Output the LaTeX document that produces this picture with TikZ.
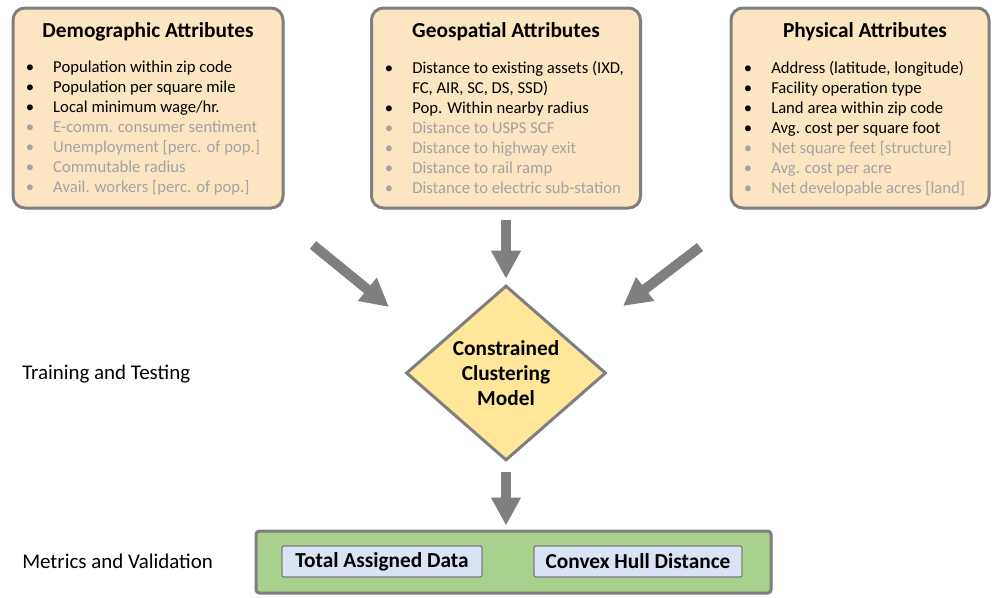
\documentclass[tikz,border=0pt]{standalone}
\usepackage{fontspec}
\setmainfont{Carlito}
\usetikzlibrary{shapes.geometric,arrows.meta,shadows}
\definecolor{boxfill}{HTML}{FCE6C2}
\definecolor{bordergray}{HTML}{7F7F7F}
\definecolor{arrowgray}{HTML}{7F7F7F}
\definecolor{textgray}{HTML}{A3A3A3}
\definecolor{diamondfill}{HTML}{FFE699}
\definecolor{greenfill}{HTML}{A9D18E}
\definecolor{bluefill}{HTML}{DAE3F3}
\newcommand{\bl}[1]{\makebox[18pt][l]{\hspace*{-2.5pt}•}#1}
\newcommand{\gl}[1]{{\color{textgray}\makebox[18pt][l]{\hspace*{-2.5pt}•}#1}}
\tikzset{
  softshadow/.style={drop shadow={shadow xshift=0.8pt, shadow yshift=-0.8pt, opacity=0.35, fill=black}},
  attrbox/.style={draw=bordergray, line width=2.25pt, fill=boxfill, rounded corners=9pt, inner sep=0pt, minimum height=150pt, softshadow},
  attrtitle/.style={font=\bfseries\fontsize{16}{19}\selectfont, inner sep=0pt},
  attrlist/.style={font=\fontsize{12.5}{15}\selectfont, align=left, inner sep=0pt, anchor=north west},
  bigarrow/.style={draw=arrowgray, line width=7.5pt, -{Triangle[length=21pt,width=21pt]}},
  sidelabel/.style={font=\fontsize{15.7}{19}\selectfont, inner sep=0pt, anchor=west},
  metricbox/.style={draw=bordergray, line width=0.9pt, fill=bluefill, rounded corners=1.5pt, minimum height=23.25pt, inner sep=0pt, font=\bfseries\fontsize{16}{19}\selectfont}
}
\begin{document}
\begin{tikzpicture}[x=0.75pt,y=-0.75pt]
\useasboundingbox (0,0) rectangle (992,597);

% attribute boxes
\node[attrbox, minimum width=202.5pt] (demo) at (148,108) {};
\node[attrbox, minimum width=201.75pt] (geo) at (506,108) {};
\node[attrbox, minimum width=193.5pt] (phys) at (860,108) {};

\node[attrtitle] (demotitle) at (148,31.5) {Demographic Attributes};
\node[attrtitle] (geotitle) at (506,31.5) {Geospatial Attributes};
\node[attrtitle] (phystitle) at (865,31.5) {Physical Attributes};

\node[attrlist] (demolist) at (29,61) {%
\bl{Population within zip code}\\
\bl{Population per square mile}\\
\bl{Local minimum wage/hr.}\\
\gl{E-comm. consumer sentiment}\\
\gl{Unemployment [perc. of pop.]}\\
\gl{Commutable radius}\\
\gl{Avail. workers [perc. of pop.]}};

\node[attrlist] (geolist) at (388,61) {%
\bl{Distance to existing assets (IXD,}\\
\hspace*{18pt}FC, AIR, SC, DS, SSD)\\
\bl{Pop. Within nearby radius}\\
\gl{Distance to USPS SCF}\\
\gl{Distance to highway exit}\\
\gl{Distance to rail ramp}\\
\gl{Distance to electric sub-station}};

\node[attrlist] (physlist) at (747,61) {%
\bl{Address (latitude, longitude)}\\
\bl{Facility operation type}\\
\bl{Land area within zip code}\\
\bl{Avg. cost per square foot}\\
\gl{Net square feet [structure]}\\
\gl{Avg. cost per acre}\\
\gl{Net developable acres [land]}};

% model
\node[diamond, draw=bordergray, line width=2.25pt, fill=diamondfill, aspect=1.14,
      minimum width=150pt, minimum height=131.25pt, inner sep=0pt, align=center,
      font=\bfseries\fontsize{16}{18.75}\selectfont] (model) at (506,373)
      {Constrained\\Clustering\\Model};

% metrics
\node[draw=bordergray, line width=2.25pt, fill=greenfill, rounded corners=2.5pt,
      minimum width=386.25pt, minimum height=46.5pt, inner sep=0pt, softshadow] (metrics) at (513.5,562) {};
\node[metricbox, minimum width=150pt] (total) at (382,561.5) {Total Assigned Data};
\node[metricbox, minimum width=156pt] (hull) at (638,561.5) {Convex Hull Distance};

% side labels
\node[sidelabel] (train) at (22,374) {Training and Testing};
\node[sidelabel] (valid) at (22,561) {Metrics and Validation};

% arrows
\coordinate (l1) at (313,245);
\coordinate (l2) at (389,307);
\coordinate (r1) at (700,247);
\coordinate (r2) at (623,306);
\draw[bigarrow] (l1) -- (l2);
\draw[bigarrow] (r1) -- (r2);
\draw[bigarrow, shorten <=7.5pt, shorten >=4pt] (geo.south) -- (model.north);
\draw[bigarrow, shorten <=7.5pt, shorten >=3pt] (model.south) -- (model.south |- metrics.north);
\end{tikzpicture}
\end{document}
